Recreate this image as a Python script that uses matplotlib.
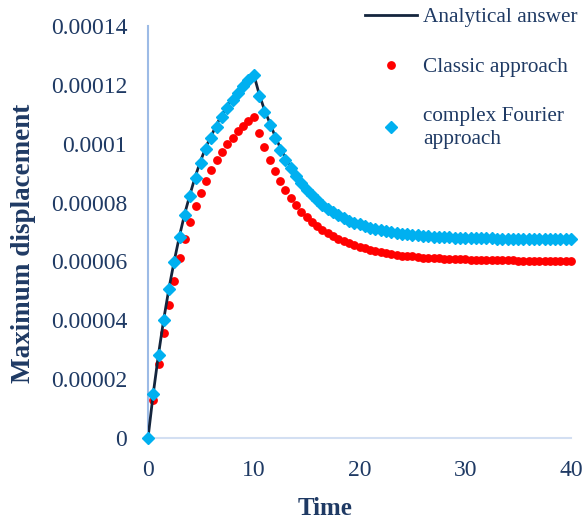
import matplotlib
matplotlib.use("Agg")
import matplotlib.pyplot as plt

# Time axis, step 0.5 from 0 to 40
time = [i * 0.5 for i in range(81)]

# values in units of 1e-5
classic = [
    0.00, 1.29, 2.51, 3.57, 4.52, 5.33, 6.13, 6.76, 7.34, 7.88,
    8.33, 8.73, 9.11, 9.45, 9.72, 9.99, 10.19, 10.43, 10.60, 10.77,
    10.91, 10.36, 9.89, 9.45, 9.07, 8.73, 8.43, 8.16, 7.92, 7.68,
    7.51, 7.34, 7.20, 7.07, 6.97, 6.86, 6.77, 6.69, 6.61, 6.55,
    6.49, 6.44, 6.39, 6.35, 6.31, 6.28, 6.25, 6.23, 6.20, 6.18,
    6.17, 6.15, 6.13, 6.12, 6.11, 6.10, 6.09, 6.08, 6.08, 6.07,
    6.07, 6.06, 6.06, 6.05, 6.05, 6.05, 6.04, 6.04, 6.04, 6.04,
    6.03, 6.03, 6.03, 6.03, 6.03, 6.03, 6.02, 6.02, 6.02, 6.02,
    6.02,
]
fourier = [
    0.00, 1.50, 2.82, 4.01, 5.06, 5.98, 6.83, 7.58, 8.22, 8.83,
    9.35, 9.82, 10.19, 10.57, 10.91, 11.20, 11.48, 11.74, 11.97, 12.15,
    12.33, 11.62, 11.08, 10.64, 10.19, 9.79, 9.45, 9.17, 8.90, 8.65,
    8.44, 8.25, 8.08, 7.93, 7.79, 7.68, 7.57, 7.48, 7.39, 7.32,
    7.26, 7.20, 7.15, 7.10, 7.06, 7.03, 7.00, 6.97, 6.94, 6.92,
    6.90, 6.89, 6.87, 6.86, 6.84, 6.83, 6.82, 6.82, 6.81, 6.80,
    6.80, 6.79, 6.79, 6.78, 6.78, 6.78, 6.77, 6.77, 6.77, 6.77,
    6.76, 6.76, 6.76, 6.76, 6.76, 6.76, 6.75, 6.75, 6.75, 6.75,
    6.75,
]
analytical = [
    0.00, 1.52, 2.86, 4.06, 5.12, 6.05, 6.90, 7.66, 8.31, 8.92,
    9.44, 9.91, 10.28, 10.66, 10.99, 11.28, 11.55, 11.80, 12.02, 12.19,
    12.36, 11.70, 11.16, 10.72, 10.27, 9.87, 9.52, 9.23, 8.96, 8.70,
    8.48, 8.29, 8.11, 7.96, 7.82, 7.70, 7.59, 7.50, 7.41, 7.34,
    7.27, 7.21, 7.16, 7.11, 7.07, 7.04, 7.01, 6.98, 6.95, 6.93,
    6.91, 6.89, 6.88, 6.86, 6.85, 6.84, 6.83, 6.82, 6.81, 6.81,
    6.80, 6.80, 6.79, 6.79, 6.78, 6.78, 6.78, 6.77, 6.77, 6.77,
    6.77, 6.76, 6.76, 6.76, 6.76, 6.76, 6.76, 6.75, 6.75, 6.75,
    6.75,
]
scale = 1e-5

y_ticks = [0, 0.00002, 0.00004, 0.00006, 0.00008, 0.0001, 0.00012, 0.00014]
y_tick_labels = ["0", "0.00002", "0.00004", "0.00006", "0.00008", "0.0001", "0.00012", "0.00014"]
x_ticks = [0, 10, 20, 30, 40]

TEXT = "#1F3A64"
plt.rcParams["font.family"] = ["Liberation Serif", "DejaVu Serif"]

fig = plt.figure(figsize=(5.84, 5.24), dpi=100)
ax = fig.add_axes([148 / 584, 86 / 524, 423 / 584, 412 / 524])

ax.plot(time, [v * scale for v in classic], linestyle="none", marker="o",
        markersize=5.3, color="#FF0000", label="Classic approach", zorder=2,
        clip_on=False)
ax.plot(time, [v * scale for v in analytical], color="#14253D", linewidth=2,
        label="Analytical answer", zorder=3)
ax.plot(time, [v * scale for v in fourier], linestyle="none", marker="D",
        markersize=6.5, color="#00B0F0", label="complex Fourier\napproach", zorder=4,
        clip_on=False)

ax.set_xlim(0, 40)
ax.set_ylim(0, 0.00014)
ax.set_xticks(x_ticks)
ax.set_yticks(y_ticks)
ax.set_yticklabels(y_tick_labels)
ax.tick_params(length=0, labelsize=17, labelcolor=TEXT)
ax.tick_params(axis="y", pad=15)
ax.tick_params(axis="x", pad=16)

for s in ["top", "right"]:
    ax.spines[s].set_visible(False)
ax.spines["left"].set_color("#9DBBE6")
ax.spines["left"].set_linewidth(1.5)
ax.spines["bottom"].set_color("#D3DFF2")
ax.spines["bottom"].set_linewidth(1.5)

ax.set_xlabel("Time", fontsize=18, fontweight="bold", color=TEXT)
ax.xaxis.set_label_coords((325 - 148) / 423, -(497 - 438) / 412)
ax.set_ylabel("Maximum displacement", fontsize=19.5, fontweight="bold", color=TEXT)
ax.yaxis.set_label_coords(-(148 - 36) / 423, (438 - 243) / 412)

handles, labels = ax.get_legend_handles_labels()
order = [1, 0, 2]
leg = fig.legend([handles[i] for i in order], [labels[i] for i in order],
                 loc="upper left", bbox_to_anchor=(356 / 584, 1 + 1 / 524),
                 frameon=False, fontsize=15.3, handlelength=2.45, labelspacing=1.4,
                 handletextpad=0.3, borderaxespad=0)
for t in leg.get_texts():
    t.set_color(TEXT)
leg.get_texts()[2].set_linespacing(1.3)

fig.savefig("out.png", dpi=100)
